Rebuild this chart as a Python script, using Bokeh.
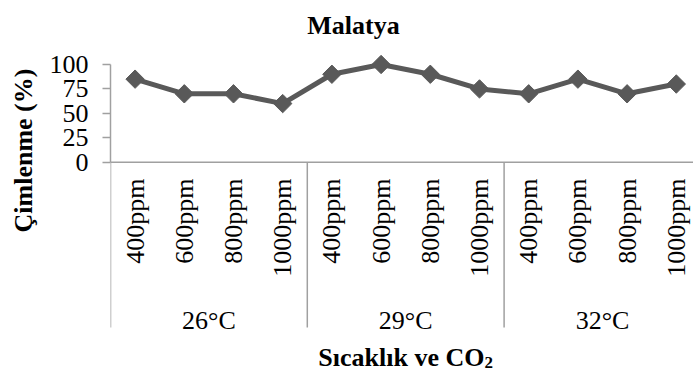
import math
from bokeh.plotting import figure
from bokeh.models import Range1d, FixedTicker, Title
from bokeh.core.properties import value
from bokeh.embed import file_html
from bokeh.resources import INLINE

# ---- data ----
title_text = "Malatya"
y_title = "Çimlenme (%)"
x_title_main = "Sıcaklık ve CO"
x_title_sub = "2"
groups = ["26°C", "29°C", "32°C"]
levels = ["400ppm", "600ppm", "800ppm", "1000ppm"]
values = [85, 70, 70, 60, 90, 100, 90, 75, 70, 85, 70, 80]
yticks = [0, 25, 50, 75, 100]

# ---- layout helpers (pixels) ----
CAT_W = 49.2          # px per category
PX_PER_UNIT = 0.977   # px per y unit
Y0_PX = 161.7         # pixel row of y=0
FRAME_LEFT = 110
FRAME_W = 583
H = 372

def ydata(px):
    return (Y0_PX - px) / PX_PER_UNIT

def xdata(px):
    return -0.5 + (px - FRAME_LEFT) / CAT_W

FONT = "Liberation Serif"
AX = "#A0A0A0"
LINE = "#595959"

p = figure(frame_width=FRAME_W, frame_height=H,
           min_border_left=FRAME_LEFT, min_border_right=0,
           min_border_top=0, min_border_bottom=0,
           x_range=Range1d(-0.5, -0.5 + FRAME_W / CAT_W),
           y_range=Range1d(ydata(H), ydata(0)),
           x_axis_location=None, title=None,
           output_backend="svg", toolbar_location=None)
p.outline_line_color = None
p.grid.visible = False
p.background_fill_color = "white"
p.border_fill_color = "white"

ax = p.yaxis[0]
ax.ticker = FixedTicker(ticks=yticks)
ax.bounds = (0, 100)
ax.axis_line_color = AX
ax.axis_line_width = 1.5
ax.major_tick_line_color = AX
ax.major_tick_line_width = 1.5
ax.major_tick_out = 8
ax.major_tick_in = 0
ax.minor_tick_line_color = None
ax.major_label_standoff = 14
ax.major_label_text_font = FONT
ax.major_label_text_font_size = "26px"
ax.major_label_text_color = "black"

# y title as a side title (start of text 140px above frame bottom)
p.add_layout(Title(text=y_title, align="left", offset=140, vertical_align="middle",
                   standoff=15, text_font=FONT, text_font_style="bold",
                   text_font_size="26px", text_color="black"), "left")

n = len(values)
xs = list(range(n))

# x axis line and group separators
p.segment(x0=[-0.5], y0=[0], x1=[n - 0.5], y1=[0], line_color=AX, line_width=1.5)
sep_x = [g * len(levels) - 0.5 for g in range(len(groups) + 1)]
p.segment(x0=sep_x, y0=[0] * len(sep_x), x1=sep_x, y1=[ydata(327)] * len(sep_x),
          line_color=AX, line_width=1.5)

# series
p.line(xs, values, line_color=LINE, line_width=5, line_join="round")
p.scatter(xs, values, marker="square", size=13, angle=math.pi / 4,
          fill_color=LINE, line_color=LINE)

# category labels (rotated)
cat_labels = [lv for g in groups for lv in levels]
p.text(x=xs, y=[ydata(178)] * n, text=cat_labels, angle=math.pi / 2,
       text_align="right", text_baseline="middle",
       text_font=value(FONT), text_font_size=value("26px"), text_color="black")

# group labels
gx = [g * len(levels) + (len(levels) - 1) / 2 for g in range(len(groups))]
p.text(x=gx, y=[ydata(320)] * len(groups), text=groups,
       text_align="center", text_baseline="alphabetic",
       text_font=value(FONT), text_font_size=value("26px"), text_color="black")

# chart title
p.text(x=[xdata(353)], y=[ydata(25)], text=[title_text],
       text_align="center", text_baseline="alphabetic",
       text_font=value(FONT), text_font_style="bold",
       text_font_size=value("26px"), text_color="black")

# x title with subscript
p.text(x=[xdata(484)], y=[ydata(357)], text=[x_title_main],
       text_align="right", text_baseline="alphabetic",
       text_font=value(FONT), text_font_style="bold",
       text_font_size=value("26px"), text_color="black")
p.text(x=[xdata(484)], y=[ydata(362)], text=[x_title_sub],
       text_align="left", text_baseline="alphabetic",
       text_font=value(FONT), text_font_style="bold",
       text_font_size=value("17px"), text_color="black")

open("out.html", "w").write(file_html(p, INLINE))
